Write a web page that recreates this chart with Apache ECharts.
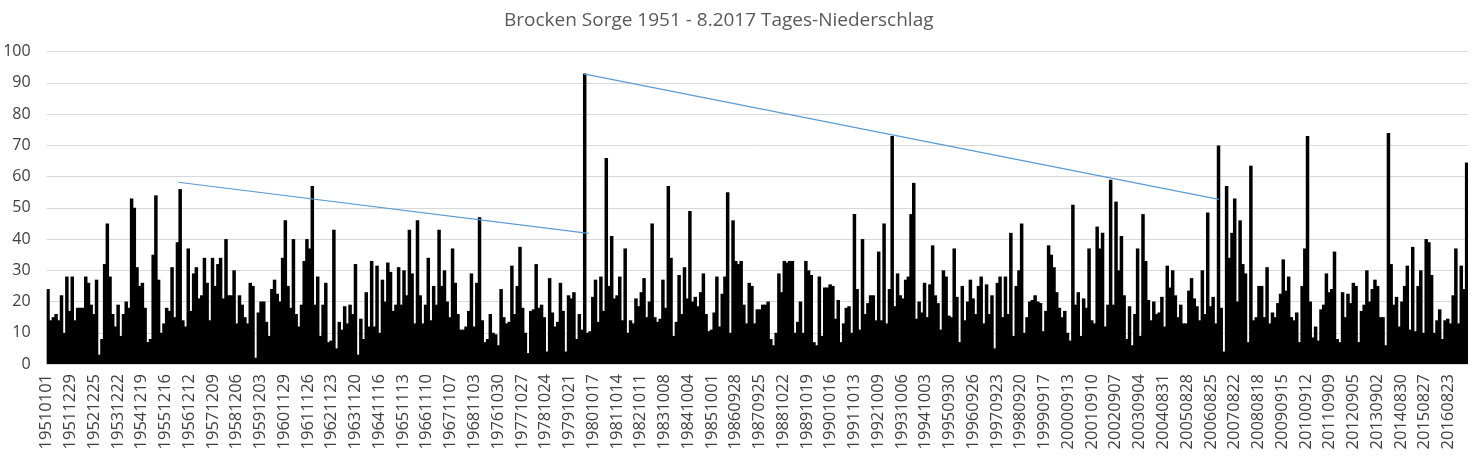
<!DOCTYPE html>
<html>
<head>
<meta charset="utf-8">
<script src="https://cdn.jsdelivr.net/npm/echarts@6/dist/echarts.min.js"></script>
<style>
html,body{margin:0;padding:0;background:#fff;}
#chart{width:1476px;height:461px;}
</style>
</head>
<body>
<div id="chart"></div>
<script>
// Tick labels shown on the x axis (every 362 rows of daily data)
const tickLabels = [
  '19510101','19511229','19521225','19531222','19541219','19551216','19561212','19571209',
  '19581206','19591203','19601129','19611126','19621123','19631120','19641116','19651113',
  '19661110','19671107','19681103','19761030','19771027','19781024','19791021','19801017',
  '19811014','19821011','19831008','19841004','19851001','19860928','19870925','19881022',
  '19891019','19901016','19911013','19921009','19931006','19941003','19950930','19960926',
  '19970923','19980920','19990917','20000913','20010910','20020907','20030904','20040831',
  '20050828','20060825','20070822','20080818','20090915','20100912','20110909','20120905',
  '20130902','20140830','20150827','20160823'
];

// Daily precipitation (mm), read as the visible height per ~41-day slice of the plot
const precip = [
  24,14,15,16,14,22,10,28,
  17,28,14,18,18,18,28,26,
  19,16,27,3,8,32,45,28,
  16,12,19,9,16,20,18,53,
  50,31,25,26,18,7,8,35,
  54,27,10,13,18,17,31,15,
  39,56,14,12,37,17,29,31,
  21,22,34,26,14,34,25,32,
  34,21,40,22,22,30,13,22,
  19,15,13,26,25,2,16.5,20,
  20,13.5,9,24,27,22.5,20,34,
  46,25,18,40,16,12,19,33,
  40,37,57,19,28,9,19,26,
  7,7.5,43,5,13.5,11,18.5,13,
  19,16,32,3,14.5,8,23,12,
  33,12,31.5,10,27,20,32.5,29.5,
  17,19,31,19,30,22,43,29,
  13,46,22,13,19,34,14,25,
  19,43,25,30,20,15,37,26,
  16,11,11,12,17,29,12,26,
  47,14,7,8,16,10,9.5,6,
  24,15,13,13.5,31.5,16,25,37.5,
  18,10,3.5,17,17.5,32,18,19,
  15,4,27.5,16.5,12,13.5,26,17,
  4,22,21,23,8,16,11,93,
  10,10.5,21.5,27,13.5,28,17,66,
  25,41,21,22,28,14,37,10,
  14,13,21,18.5,23,27.5,15,20,
  45,15,13.5,14.5,27,18,57,34,
  9,13.5,28.5,16,31,21,49,20,
  21.5,18.5,23,29,16,10.5,11,16.5,
  28,12,22.5,28,55,10,46,33,
  32,33,19,13,26,25,13,17.5,
  17.5,19,19,20,8,6,10,29,
  23,33,32.5,33,33,10,13.5,20,
  10,33,30,28.5,7,6,28,9,
  24.5,24.5,25.5,25,14.5,20.5,7,13,
  18,18.5,10,48,24,11,40,16,
  19.5,22,22,14,36,14,45,13,
  24,73,18.5,29,22,21,27,28,
  48,58,14.5,20,16.5,26,15,25.5,
  38,22,19.5,11,30,28,15.5,15,
  37,21.5,7,25,14,20,27,21,
  16,25,28,13,25.5,16,22,5,
  26,28,15,28,16,42,9,25,
  30,45,10,15,20,20.5,22,20,
  19.5,10.5,17,38,35,31,23,18,
  15,17,10,7.5,51,19,23,9,
  21,18,37,14,13,44,37,42,
  12,19,59,19,52,30,41,22,
  8,18.5,6,16,37,9,48,33,
  20.5,14,20,16,16.5,21.5,12,31.5,
  24.5,30,22,15,19,13,13,23.5,
  27.5,21,18.5,14,30,16,48.5,18.5,
  21.5,13,70,18,4,57,34,42,
  53,20,46,32,29,7,63.5,14,
  15,25,25,15,31,13,16.5,15,
  19.5,22.5,33.5,23.5,28,15,14,16.5,
  7,25,37,73,20,8.5,12,7.5,
  17.5,19,29,23,24,36,8,7,
  23,15,22.5,19.5,26,25,7,17,
  19,30,20,24,27,25,15,15,
  6,74,32,19,21.5,12,20,25,
  31.5,11,37.5,10.5,25,30,10,40,
  39,28.5,10,14,17.5,8,14,14.5,
  13,22,37,13,31.5,24,64.5
];

// Hand-drawn blue connector lines, [slice position, mm]
const trendLine1 = [[48.8, 58.2], [200.9, 41.8]];
const trendLine2 = [[199.1, 92.9], [434.6, 52.7]];

const slicesPerLabel = 8.809; // slices between two x tick labels
const sliceIdx = precip.map((_, i) => i);
const FONT = '"Open Sans", "Noto Sans", sans-serif';

const chart = echarts.init(document.getElementById('chart'), null, {renderer: 'canvas'});
chart.setOption({
  animation: false,
  backgroundColor: '#ffffff',
  title: {
    text: 'Brocken Sorge 1951 - 8.2017 Tages-Niederschlag',
    left: 499, top: 6,
    textStyle: {fontFamily: FONT, fontSize: 19, fontWeight: 'normal', color: '#595959'}
  },
  grid: {left: 46.65, right: 8, top: 51.7, bottom: 97, containLabel: false},
  xAxis: [
    {
      type: 'category', data: sliceIdx, boundaryGap: true,
      axisLine: {show: true, lineStyle: {color: '#d9d9d9'}},
      axisTick: {show: false}, axisLabel: {show: false}, splitLine: {show: false}
    },
    {
      type: 'value', min: 0, max: precip.length, interval: slicesPerLabel,
      position: 'bottom',
      axisLine: {show: false}, axisTick: {show: false}, splitLine: {show: false},
      axisLabel: {
        show: true, rotate: 90, margin: 10, showMaxLabel: false,
        fontFamily: FONT, fontSize: 16.5, color: '#404040',
        formatter: function (v) {
          const i = Math.round(v / slicesPerLabel);
          return tickLabels[i] !== undefined && Math.abs(v - i * slicesPerLabel) < 0.01 ? tickLabels[i] : '';
        }
      }
    }
  ],
  yAxis: {
    type: 'value', min: 0, max: 100, interval: 10,
    axisLine: {show: false}, axisTick: {show: false},
    splitLine: {show: true, lineStyle: {color: '#d9d9d9', width: 1}},
    axisLabel: {margin: 16, fontFamily: FONT, fontSize: 16, color: '#404040'}
  },
  series: [
    {
      type: 'bar', xAxisIndex: 0, data: precip,
      barWidth: 3.5, barGap: '0%',
      itemStyle: {color: '#000000'},
      silent: true, z: 2
    },
    {
      type: 'line', xAxisIndex: 1, data: trendLine1, symbol: 'none',
      lineStyle: {color: '#5b9bd5', width: 1.2}, silent: true, z: 3
    },
    {
      type: 'line', xAxisIndex: 1, data: trendLine2, symbol: 'none',
      lineStyle: {color: '#5b9bd5', width: 1.2}, silent: true, z: 3
    }
  ]
});
</script>
</body>
</html>
